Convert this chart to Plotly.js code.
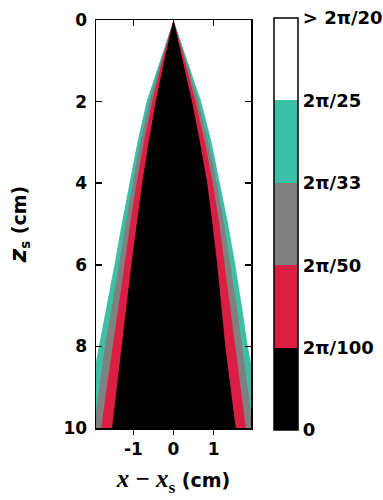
<!DOCTYPE html>
<html>
<head>
<meta charset="utf-8">
<script src="https://cdn.plot.ly/plotly-3.0.1.min.js"></script>
<style>html,body{margin:0;padding:0;background:#fff;}#chart{width:383px;height:500px;}</style>
</head>
<body>
<div id="chart"></div>
<script>
// depth levels z_s (cm)
const zLevels = [0, 1, 2, 3, 4, 5, 6, 7, 8, 9, 10];
// boundaries x - x_s (cm), left and right side of each band
const blackLeft  = [0, -0.23, -0.44, -0.62, -0.78, -0.92, -1.05, -1.17, -1.29, -1.41, -1.53];
const blackRight = [0,  0.23,  0.46,  0.66,  0.84,  0.97,  1.09,  1.19,  1.29,  1.42,  1.55];
const redLeft    = [0, -0.28, -0.53, -0.74, -0.92, -1.08, -1.22, -1.37, -1.52, -1.66, -1.80];
const redRight   = [0,  0.28,  0.55,  0.78,  0.98,  1.14,  1.28,  1.41,  1.54,  1.67,  1.80];
const grayLeft   = [0, -0.31, -0.60, -0.83, -1.02, -1.19, -1.35, -1.53, -1.71, -1.85, -1.98];
const grayRight  = [0,  0.32,  0.62,  0.87,  1.08,  1.26,  1.42,  1.57,  1.71,  1.85,  1.98];
const tealLeft   = [0, -0.34, -0.67, -0.90, -1.10, -1.29, -1.47, -1.67, -1.87, -2.05, -2.25];
const tealRight  = [0,  0.35,  0.69,  0.95,  1.16,  1.36,  1.54,  1.70,  1.85,  2.05,  2.25];

const bandLabels = ['0', '2π/100', '2π/50', '2π/33', '2π/25', '> 2π/20'];
const bandIndex = [0, 1, 2, 3, 4, 5];

const C_BLACK = '#000000', C_RED = '#dc1e42', C_GRAY = '#808080', C_TEAL = '#3dbfa6', C_WHITE = '#ffffff';

function band(left, right, color) {
  return {
    type: 'scatter', mode: 'lines',
    x: left.concat(right.slice().reverse()),
    y: zLevels.concat(zLevels.slice().reverse()),
    fill: 'toself', fillcolor: color,
    line: {width: 0, color: color},
    hoverinfo: 'skip', showlegend: false
  };
}

const traces = [
  band(tealLeft, tealRight, C_TEAL),
  band(grayLeft, grayRight, C_GRAY),
  band(redLeft, redRight, C_RED),
  band(blackLeft, blackRight, C_BLACK),
  {
    type: 'scatter', mode: 'markers',
    x: [50, 50], y: [50, 50],
    hoverinfo: 'skip', showlegend: false,
    marker: {
      color: [0, 5], cmin: 0, cmax: 5,
      colorscale: [[0, C_BLACK], [0.2, C_BLACK], [0.2, C_RED], [0.4, C_RED],
                   [0.4, C_GRAY], [0.6, C_GRAY], [0.6, C_TEAL], [0.8, C_TEAL],
                   [0.8, C_WHITE], [1, C_WHITE]],
      showscale: true,
      colorbar: {
        x: 1.148, xanchor: 'left', xpad: 0,
        y: 0.5, yanchor: 'middle', ypad: 0,
        lenmode: 'pixels', len: 412,
        thicknessmode: 'pixels', thickness: 24,
        outlinewidth: 1.5, outlinecolor: '#000',
        tickmode: 'array', tickvals: bandIndex, ticktext: bandLabels,
        ticks: '', ticklabelpad: 4,
        tickfont: {family: 'DejaVu Sans', size: 18, color: '#000', weight: 'bold'}
      }
    }
  }
];

const tickFont = {family: 'DejaVu Sans', size: 17, color: '#000', weight: 'bold'};

const layout = {
  width: 383, height: 500,
  margin: {l: 96, r: 132, t: 20, b: 72, autoexpand: false},
  paper_bgcolor: '#fff', plot_bgcolor: '#fff',
  showlegend: false,
  xaxis: {
    range: [-1.93, 1.93], tickvals: [-1, 0, 1], ticktext: ['-1', '0', '1'],
    ticks: 'outside', ticklen: 5, tickwidth: 1.5, tickcolor: '#000',
    showline: true, linecolor: '#000', linewidth: 1.5, mirror: true,
    showgrid: false, zeroline: false, tickfont: tickFont, automargin: false,
    title: {
      text: '<span style="font-family:Liberation Serif;font-size:25px"><i>x</i> − <i>x</i><sub>s</sub></span> (cm)',
      font: {family: 'DejaVu Sans', size: 19, color: '#000', weight: 'bold'},
      standoff: 16
    }
  },
  xaxis2: {
    overlaying: 'x', matches: 'x', side: 'top', range: [-1.93, 1.93],
    tickvals: [-1, 0, 1], showticklabels: false,
    ticks: 'inside', ticklen: 6, tickwidth: 1.5, tickcolor: '#000',
    showline: false, showgrid: false, zeroline: false
  },
  yaxis: {
    range: [10, 0], tickvals: [0, 2, 4, 6, 8, 10],
    ticks: 'inside', ticklen: 6, tickwidth: 1.5, tickcolor: '#000',
    showline: true, linecolor: '#000', linewidth: 1.5, mirror: 'ticks',
    showgrid: false, zeroline: false, tickfont: tickFont, ticklabelstandoff: 4, automargin: false,
    title: {
      text: '<span style="font-size:23px"><i>z</i></span><sub>s</sub> (cm)',
      font: {family: 'DejaVu Sans', size: 19, color: '#000', weight: 'bold'},
      standoff: 32
    }
  }
};

// invisible trace so xaxis2 (top inside ticks) is drawn
traces.push({type: 'scatter', mode: 'markers', x: [50], y: [50], xaxis: 'x2', yaxis: 'y',
             hoverinfo: 'skip', showlegend: false, marker: {opacity: 0}});

Plotly.newPlot('chart', traces, layout, {displayModeBar: false, staticPlot: true});
</script>
</body>
</html>
